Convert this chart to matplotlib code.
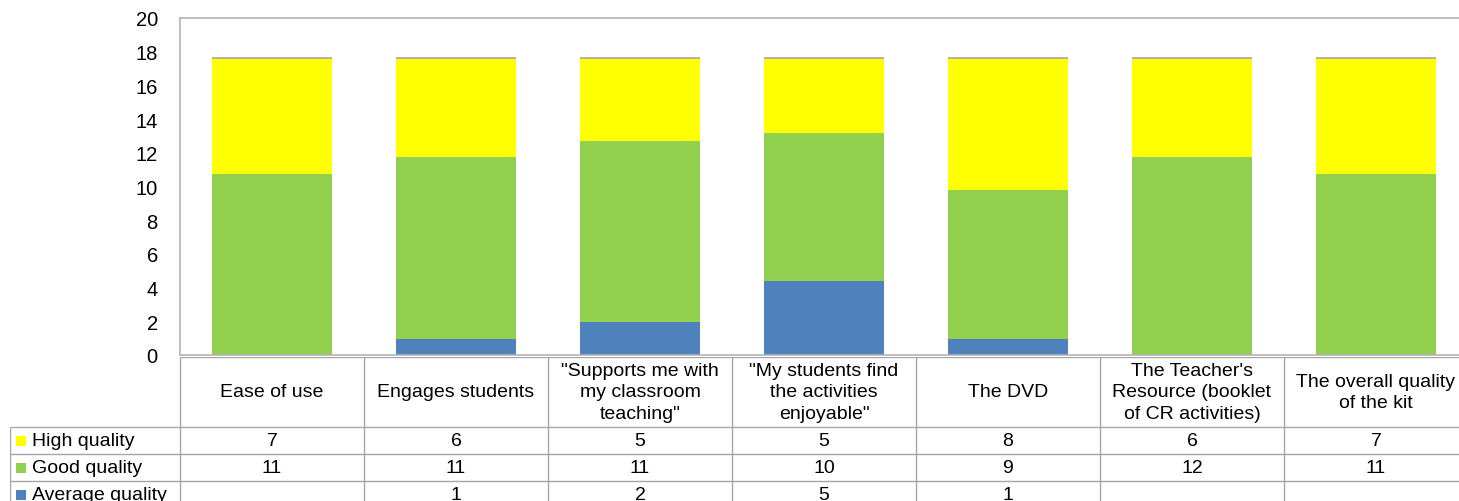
import numpy as np
import matplotlib
matplotlib.use("Agg")
import matplotlib.pyplot as plt

plt.rcParams['font.family'] = ['Liberation Sans', 'DejaVu Sans']

categories = ["Ease of use", "Engages students", "\"Supports me with\nmy classroom\nteaching\"",
              "\"My students find\nthe activities\nenjoyable\"", "The DVD",
              "The Teacher's\nResource (booklet\nof CR activities)", "The overall quality\nof the kit"]
high = [7, 6, 5, 5, 8, 6, 7]
good = [11, 11, 11, 10, 9, 12, 11]
average = [0, 1, 2, 5, 1, 0, 0]
average_labels = ["", "1", "2", "5", "1", "", ""]
series_names = ["High quality", "Good quality", "Average quality"]
colors = ["#FFFF00", "#92D050", "#4F81BD"]

# 100% stacked level sits at 17.6 on the 0-20 axis
full = 17.6

W, H = 1459, 502
fig = plt.figure(figsize=(W / 100, H / 100), dpi=100)

col_w = 184.0
x0 = 180.0
ncol = len(categories)
right_px = x0 + col_w * ncol

ax = fig.add_axes([x0 / W, (H - 356) / H, (right_px - x0) / W, (356 - 19) / H])
x = np.arange(ncol)
tot = np.array(high) + np.array(good) + np.array(average)
a = np.array(average) / tot * full
g = np.array(good) / tot * full
h = np.array(high) / tot * full
bw = 120 / col_w
ax.bar(x, a, bw, color=colors[2], linewidth=0)
ax.bar(x, g, bw, bottom=a, color=colors[1], linewidth=0)
ax.bar(x, h, bw, bottom=a + g, color=colors[0], linewidth=0)
ax.hlines(a + g + h, x - bw / 2, x + bw / 2, color="#A6A6A6", lw=1.2)
ax.set_xlim(-0.5, ncol - 0.5)
ax.set_ylim(0, 20)
ax.set_yticks(range(0, 21, 2))
ax.set_xticks([])
ax.tick_params(axis='y', length=0, labelsize=14.5, pad=16)
for s in ["top", "left", "bottom"]:
    ax.spines[s].set_color("#B3B3B3")
    ax.spines[s].set_linewidth(1.2)
ax.spines["right"].set_visible(False)

# data table below
leg_left = 10.0
tx = fig.add_axes([leg_left / W, (H - 510) / H, (right_px - leg_left) / W, (510 - 358) / H])
lx = -0.5 - (x0 - leg_left) / col_w
tx.set_xlim(lx, ncol - 0.5)
tx.set_ylim(510, 358)
tx.axis("off")
line_c = "#A6A6A6"
row_tops = [428, 455, 482, 509]
tx.hlines(358, -0.5, ncol - 0.5, color=line_c, lw=1)
for yy in row_tops:
    tx.hlines(yy, lx, ncol - 0.5, color=line_c, lw=1)
tx.vlines(lx, 428, 510, color=line_c, lw=1)
for i in range(ncol + 1):
    tx.vlines(i - 0.5, 358, 510, color=line_c, lw=1)

fs = 14
for i, c in enumerate(categories):
    tx.text(i, 393, c, ha="center", va="center", fontsize=fs, linespacing=1.35)

rows = [[str(v) for v in high], [str(v) for v in good], average_labels]
for r, vals in enumerate(rows):
    yc = (row_tops[r] + row_tops[r + 1]) / 2
    mx = lx + 6 / col_w
    tx.add_patch(plt.Rectangle((mx, yc - 5), 10 / col_w, 10, color=colors[r], lw=0))
    tx.text(lx + 22 / col_w, yc, series_names[r], ha="left", va="center", fontsize=fs)
    for i, v in enumerate(vals):
        tx.text(i, yc, v, ha="center", va="center", fontsize=fs)

fig.savefig("out.png", dpi=100)
